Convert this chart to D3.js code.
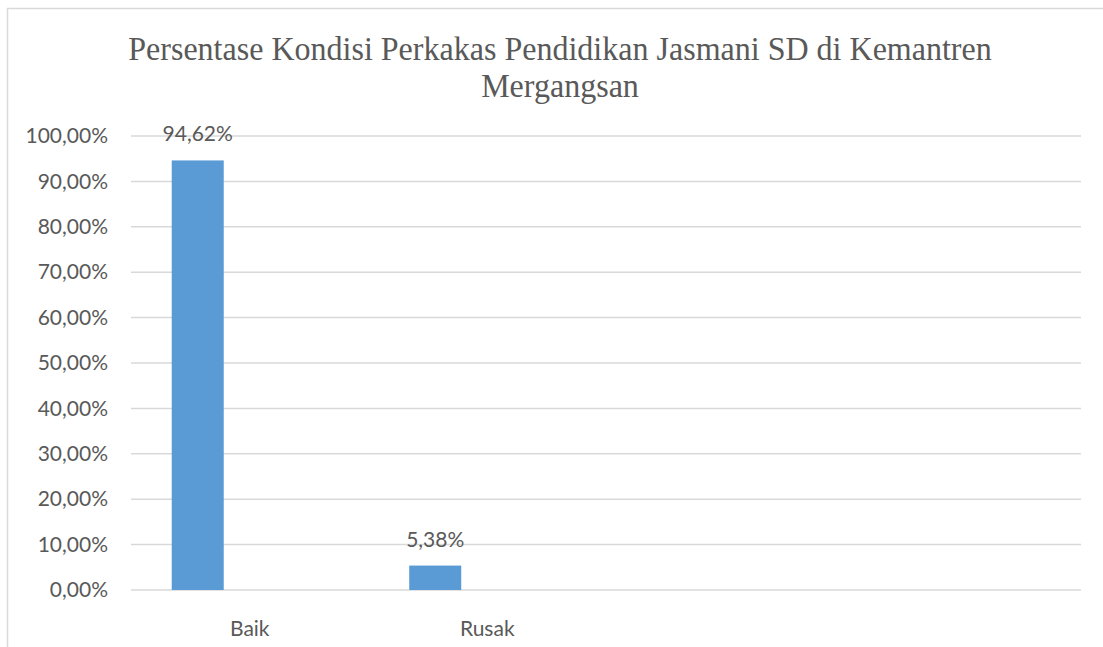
<!DOCTYPE html>
<html>
<head>
<meta charset="utf-8">
<script src="https://cdn.jsdelivr.net/npm/d3@7"></script>
<style>
  html, body { margin: 0; padding: 0; background: #fff; overflow: hidden; }
  svg { display: block; }
</style>
</head>
<body>
<div id="chart"></div>
<script>
// chart data
const categories = ['Baik', 'Rusak', '', ''];
const seriesKeys = ['s1', 's2', 's3'];
const series1 = [94.62, 5.38, null, null];
const series2 = [null, null, null, null];
const series3 = [null, null, null, null];
const yTicks = [0, 10, 20, 30, 40, 50, 60, 70, 80, 90, 100];
const titleLines = ['Persentase Kondisi Perkakas Pendidikan Jasmani SD di Kemantren', 'Mergangsan'];

const width = 1103, height = 647;
const margin = {left: 131, right: 22, top: 136, bottom: 57};
const gray = '#595959';
const gridColor = '#d9d9d9';
const barColor = '#5b9bd5';

const idLocale = d3.formatLocale({decimal: ',', thousands: '.', grouping: [3], currency: ['', '']});
const fmt = v => idLocale.format('.2f')(v) + '%';

const svg = d3.select('#chart').append('svg')
  .attr('width', width)
  .attr('height', height);

// outer chart frame (cropped on the right/bottom)
svg.append('rect')
  .attr('x', 7.5).attr('y', 8.5)
  .attr('width', width + 20).attr('height', height + 20)
  .attr('fill', 'none')
  .attr('stroke', gridColor)
  .attr('stroke-width', 1.5);

// title, Times-like and narrowed
const title = svg.append('g');
const t1 = title.append('text')
  .attr('x', 0).attr('y', 60)
  .attr('text-anchor', 'middle')
  .style('font-family', '"Liberation Serif", "Times New Roman", serif')
  .style('font-size', '34px')
  .attr('fill', gray)
  .text(titleLines[0]);
title.append('text')
  .attr('x', 0).attr('y', 97)
  .attr('text-anchor', 'middle')
  .style('font-family', '"Liberation Serif", "Times New Roman", serif')
  .style('font-size', '34px')
  .attr('fill', gray)
  .text(titleLines[1]);
const ratio = 864 / t1.node().getComputedTextLength();
title.attr('transform', `translate(560,0) scale(${ratio},1)`);

const x = d3.scaleBand()
  .domain(d3.range(categories.length))
  .range([margin.left, width - margin.right])
  .padding(0);

const xInner = d3.scaleBand()
  .domain(seriesKeys)
  .range([0, x.bandwidth()])
  .paddingInner(0)
  .paddingOuter(0.783);

const y = d3.scaleLinear()
  .domain([0, 100])
  .range([height - margin.bottom, margin.top]);

const font = 'Lato, "Open Sans", sans-serif';

// gridlines
svg.append('g')
  .selectAll('line')
  .data(yTicks)
  .join('line')
  .attr('x1', margin.left).attr('x2', width - margin.right)
  .attr('y1', d => y(d)).attr('y2', d => y(d))
  .attr('stroke', gridColor)
  .attr('stroke-width', 1.5);

// y axis labels
const yAxis = svg.append('g')
  .attr('transform', `translate(${margin.left},0)`)
  .call(d3.axisLeft(y).tickValues(yTicks).tickFormat(fmt).tickSize(0).tickPadding(23));
yAxis.select('.domain').remove();
yAxis.selectAll('text')
  .style('font-family', font)
  .style('font-size', '21px')
  .attr('fill', gray);

// x axis labels
const xAxis = svg.append('g')
  .attr('transform', `translate(0,${height - margin.bottom})`)
  .call(d3.axisBottom(x).tickFormat(i => categories[i]).tickSize(0).tickPadding(31));
xAxis.select('.domain').remove();
xAxis.selectAll('text')
  .style('font-family', font)
  .style('font-size', '21px')
  .attr('fill', gray);

// bars
const allSeries = [series1, series2, series3];
const rows = [];
allSeries.forEach((vals, s) => {
  vals.forEach((v, i) => {
    if (v != null) rows.push({cat: i, key: seriesKeys[s], value: v});
  });
});

const bars = svg.append('g');
bars.selectAll('rect')
  .data(rows)
  .join('rect')
  .attr('x', d => x(d.cat) + xInner(d.key))
  .attr('width', xInner.bandwidth())
  .attr('y', d => y(d.value))
  .attr('height', d => y(0) - y(d.value))
  .attr('fill', barColor);

// data labels
bars.selectAll('text')
  .data(rows)
  .join('text')
  .attr('x', d => x(d.cat) + xInner(d.key) + xInner.bandwidth() / 2)
  .attr('y', d => y(d.value) - 19)
  .attr('text-anchor', 'middle')
  .style('font-family', font)
  .style('font-size', '21px')
  .attr('fill', gray)
  .text(d => fmt(d.value));
</script>
</body>
</html>
